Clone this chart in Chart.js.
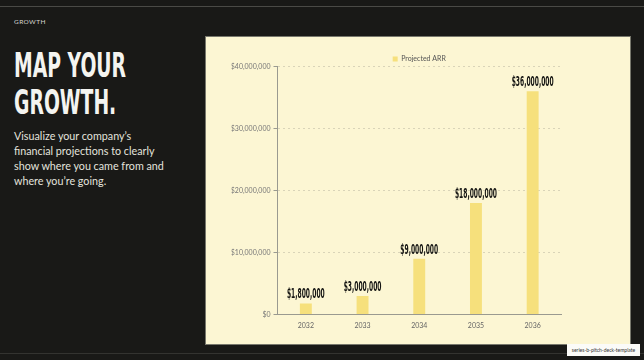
<!DOCTYPE html>
<html>
<head>
<meta charset="utf-8">
<script src="https://cdn.jsdelivr.net/npm/chart.js@4.4.1/dist/chart.umd.min.js"></script>
<style>
  html, body { margin: 0; padding: 0; }
  body { width: 644px; height: 360px; background: #191917; position: relative; overflow: hidden; font-family: Lato, "Open Sans", sans-serif; }
  .rule { position: absolute; left: 0; width: 644px; height: 1px; background: #4a4a46; }
  .kicker { position: absolute; left: 14px; top: 18px; font-size: 6.5px; color: #d6d6d0; letter-spacing: 0.4px; }
  .title { position: absolute; left: 14px; top: 47px; font-family: "DejaVu Sans Condensed", sans-serif; font-weight: bold; font-size: 34px; line-height: 37px; color: #f4f4f0; transform: scaleX(0.614); transform-origin: left top; white-space: nowrap; }
  .blurb { position: absolute; left: 14px; top: 128px; font-size: 10.75px; line-height: 15px; color: #e4e4de; white-space: nowrap; }
  .panel { position: absolute; left: 206px; top: 37px; width: 424px; height: 307px; background: #fcf6d3; box-shadow: 0 0 0 1px #77776c; }
  .panel canvas { position: absolute; left: 0; top: 0; }
  .tag { position: absolute; left: 567px; top: 344px; width: 73px; height: 12px; background: #fbfbf8; color: #333; font-size: 5px; line-height: 12px; text-align: center; }
</style>
</head>
<body>
<div class="rule" style="top:6px"></div>
<div class="rule" style="top:353px; background:#333330"></div>
<div class="kicker">GROWTH</div>
<div class="title">MAP YOUR<br>GROWTH.</div>
<div class="blurb">Visualize your company’s<br>financial projections to clearly<br>show where you came from and<br>where you’re going.</div>
<div class="panel"><canvas id="chart" width="424" height="307"></canvas></div>
<div class="tag">series-b-pitch-deck-template</div>

<script>
const years = ['2032', '2033', '2034', '2035', '2036'];
const arrValues = [1800000, 3000000, 9000000, 18000000, 36000000];
const yTickValues = [0, 10000000, 20000000, 30000000, 40000000];
const seriesName = 'Projected ARR';

function money(v) {
  return '$' + v.toLocaleString('en-US');
}

// value labels over each bar, squeezed to look like a condensed display face
const valueLabels = {
  id: 'valueLabels',
  afterDatasetsDraw(chart) {
    const ctx = chart.ctx;
    const meta = chart.getDatasetMeta(0);
    ctx.save();
    ctx.font = 'bold 14px "DejaVu Sans Condensed", sans-serif';
    ctx.fillStyle = '#141412';
    ctx.textAlign = 'center';
    ctx.textBaseline = 'alphabetic';
    meta.data.forEach(function(bar, i) {
      ctx.save();
      ctx.translate(bar.x, bar.y - 5);
      ctx.scale(0.475, 1);
      ctx.fillText(money(arrValues[i]), 0, 0);
      ctx.restore();
    });
    ctx.restore();
  }
};

// legend takes less room than chart.js gives it, so the plot sits closer
const tightLegend = {
  id: 'tightLegend',
  beforeUpdate(chart) {
    const legend = chart.legend;
    if (legend && !legend._tight) {
      const fit = legend.fit;
      legend.fit = function() {
        fit.call(this);
        this.height = 14;
      };
      legend._tight = true;
    }
  }
};

const ctx = document.getElementById('chart').getContext('2d');
new Chart(ctx, {
  type: 'bar',
  data: {
    labels: years,
    datasets: [{
      label: seriesName,
      data: arrValues,
      backgroundColor: '#f6e07c',
      borderWidth: 0,
      barPercentage: 0.21,
      categoryPercentage: 1
    }]
  },
  options: {
    responsive: false,
    animation: false,
    layout: { padding: { left: 25.5, right: 69, top: 15.5, bottom: 7 } },
    plugins: {
      legend: {
        fullSize: false,
        labels: {
          boxWidth: 5,
          boxHeight: 5,
          padding: 3,
          color: '#555',
          font: { family: 'Lato', size: 7 }
        }
      },
      tooltip: { enabled: false }
    },
    scales: {
      x: {
        grid: { display: false, drawTicks: false },
        border: { display: true, color: '#9a9a90', width: 1 },
        ticks: { color: '#666', padding: 7, font: { family: 'Lato', size: 7 } }
      },
      y: {
        min: 0,
        max: 40000000,
        afterBuildTicks: function(scale) {
          scale.ticks = yTickValues.map(function(v) { return { value: v }; });
        },
        afterFit: function(scale) { scale.width = 46; },
        grid: { color: '#d9d4b8', tickColor: '#9a9a90', tickLength: 4 },
        border: { display: true, color: '#9a9a90', width: 1, dash: [2, 3] },
        ticks: {
          color: '#777',
          padding: 3,
          font: { family: 'Lato', size: 7 },
          callback: function(v) { return money(v); }
        }
      }
    }
  },
  plugins: [valueLabels, tightLegend]
});
</script>
</body>
</html>
